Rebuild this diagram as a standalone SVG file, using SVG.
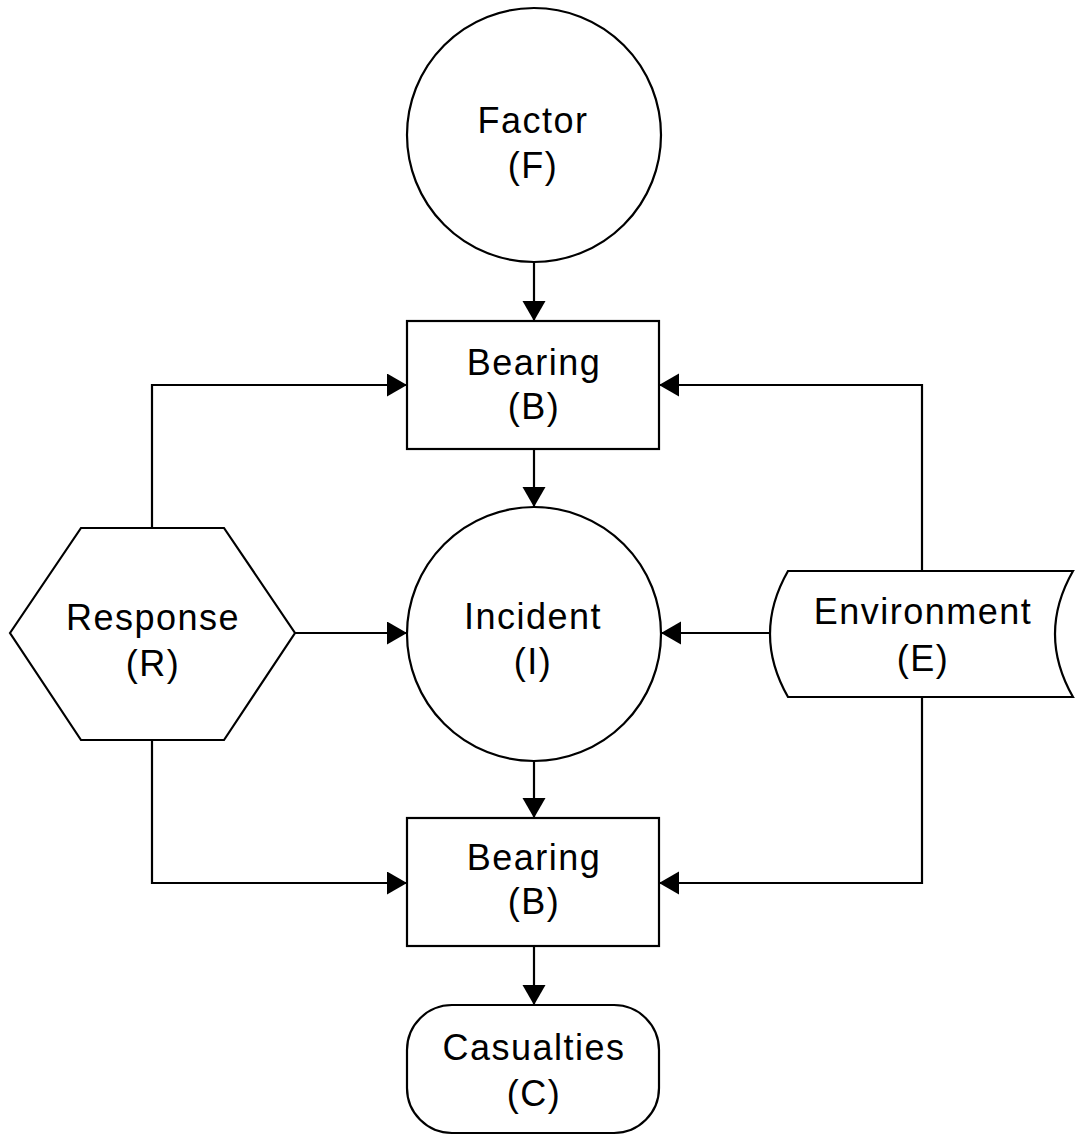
<svg xmlns="http://www.w3.org/2000/svg" width="1082" height="1143" viewBox="0 0 1082 1143">
<defs>
<marker id="arr" markerUnits="userSpaceOnUse" markerWidth="22" markerHeight="24" refX="20" refY="11.5" orient="auto">
<path d="M0,0 L20,11.5 L0,23 Z" fill="#000"/>
</marker>
<style>
.s{fill:#fff;stroke:#000;stroke-width:2.2}
.t{font-family:"Liberation Sans",Arial,sans-serif;font-size:36px;letter-spacing:1.5px;fill:#000;text-anchor:middle}
.c{fill:none;stroke:#000;stroke-width:2.2}
</style>
</defs>
<rect width="1082" height="1143" fill="#fff"/>
<g id="connectors">
<path class="c" d="M534,262 L534,321" marker-end="url(#arr)"/>
<path class="c" d="M534,449 L534,507" marker-end="url(#arr)"/>
<path class="c" d="M534,761 L534,818" marker-end="url(#arr)"/>
<path class="c" d="M534,946 L534,1005" marker-end="url(#arr)"/>
<path class="c" d="M152,528 L152,385 L407,385" marker-end="url(#arr)"/>
<path class="c" d="M295,633 L407,633" marker-end="url(#arr)"/>
<path class="c" d="M152,740 L152,883 L407,883" marker-end="url(#arr)"/>
<path class="c" d="M922,571 L922,385 L659,385" marker-end="url(#arr)"/>
<path class="c" d="M770,633 L661,633" marker-end="url(#arr)"/>
<path class="c" d="M922,697 L922,883 L659,883" marker-end="url(#arr)"/>
</g>
<g id="factor">
<circle class="s" cx="534" cy="135" r="127"/>
<text class="t" x="533" y="133">Factor</text>
<text class="t" x="533" y="178">(F)</text>
</g>
<g id="bearing1">
<rect class="s" x="407" y="321" width="252" height="128"/>
<text class="t" x="534" y="375">Bearing</text>
<text class="t" x="534" y="419">(B)</text>
</g>
<g id="incident">
<circle class="s" cx="534" cy="634" r="127"/>
<text class="t" x="533" y="629">Incident</text>
<text class="t" x="533" y="674">(I)</text>
</g>
<g id="bearing2">
<rect class="s" x="407" y="818" width="252" height="128"/>
<text class="t" x="534" y="870">Bearing</text>
<text class="t" x="534" y="914">(B)</text>
</g>
<g id="casualties">
<rect class="s" x="407" y="1005" width="252" height="128" rx="45" ry="45"/>
<text class="t" x="534" y="1060">Casualties</text>
<text class="t" x="534" y="1106">(C)</text>
</g>
<g id="response">
<polygon class="s" points="10,633 81,528 224,528 295,633 224,740 81,740"/>
<text class="t" x="153" y="630">Response</text>
<text class="t" x="153" y="676">(R)</text>
</g>
<g id="environment">
<path class="s" d="M788,571 L1073,571 Q1037,634 1073,697 L788,697 Q752,634 788,571 Z"/>
<text class="t" x="923" y="624">Environment</text>
<text class="t" x="923" y="671">(E)</text>
</g>
</svg>
